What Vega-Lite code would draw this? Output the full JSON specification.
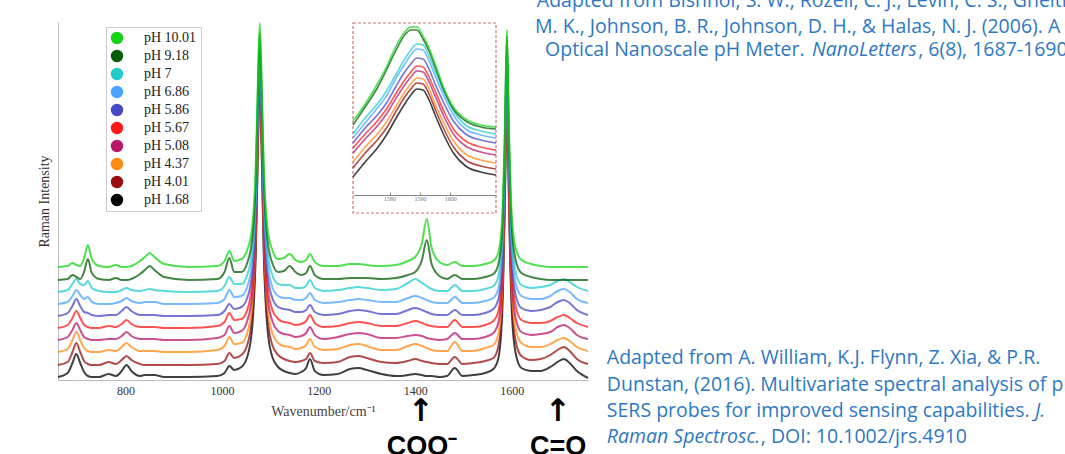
{
"$schema":"https://vega.github.io/schema/vega-lite/v6.json",
"width":530,"height":358,
"autosize":{"type":"none"},
"padding":{"left":58,"top":22,"right":477,"bottom":74},
"background":"white",
"config":{"view":{"stroke":null}},
"datasets":{
"one":[{}],
"main":[
{"s":"pH 1.68","w":660,"i":3},{"s":"pH 1.68","w":680,"i":7},{"s":"pH 1.68","w":690,"i":17},{"s":"pH 1.68","w":698,"i":26},{"s":"pH 1.68","w":706,"i":17},{"s":"pH 1.68","w":714,"i":8},{"s":"pH 1.68","w":722,"i":4},{"s":"pH 1.68","w":730,"i":3},{"s":"pH 1.68","w":745,"i":3},{"s":"pH 1.68","w":765,"i":6},{"s":"pH 1.68","w":780,"i":4},{"s":"pH 1.68","w":792,"i":9},{"s":"pH 1.68","w":802,"i":15},{"s":"pH 1.68","w":812,"i":9},{"s":"pH 1.68","w":830,"i":4},{"s":"pH 1.68","w":840,"i":5},{"s":"pH 1.68","w":850,"i":5},{"s":"pH 1.68","w":860,"i":5},{"s":"pH 1.68","w":880,"i":3},{"s":"pH 1.68","w":930,"i":3},{"s":"pH 1.68","w":990,"i":4},{"s":"pH 1.68","w":1005,"i":7},{"s":"pH 1.68","w":1015,"i":14},{"s":"pH 1.68","w":1025,"i":10},{"s":"pH 1.68","w":1040,"i":13},{"s":"pH 1.68","w":1052,"i":23},{"s":"pH 1.68","w":1062,"i":51},{"s":"pH 1.68","w":1070,"i":132},{"s":"pH 1.68","w":1074,"i":227},{"s":"pH 1.68","w":1078,"i":302},{"s":"pH 1.68","w":1082,"i":227},{"s":"pH 1.68","w":1086,"i":132},{"s":"pH 1.68","w":1094,"i":51},{"s":"pH 1.68","w":1104,"i":23},{"s":"pH 1.68","w":1116,"i":13},{"s":"pH 1.68","w":1128,"i":9},{"s":"pH 1.68","w":1140,"i":7},{"s":"pH 1.68","w":1152,"i":6},{"s":"pH 1.68","w":1164,"i":8},{"s":"pH 1.68","w":1174,"i":12},{"s":"pH 1.68","w":1182,"i":21},{"s":"pH 1.68","w":1192,"i":9},{"s":"pH 1.68","w":1210,"i":5},{"s":"pH 1.68","w":1240,"i":6},{"s":"pH 1.68","w":1265,"i":11},{"s":"pH 1.68","w":1282,"i":12},{"s":"pH 1.68","w":1300,"i":10},{"s":"pH 1.68","w":1330,"i":6},{"s":"pH 1.68","w":1360,"i":4},{"s":"pH 1.68","w":1385,"i":5},{"s":"pH 1.68","w":1400,"i":6},{"s":"pH 1.68","w":1414,"i":5},{"s":"pH 1.68","w":1424,"i":4},{"s":"pH 1.68","w":1434,"i":4},{"s":"pH 1.68","w":1450,"i":3},{"s":"pH 1.68","w":1466,"i":4},{"s":"pH 1.68","w":1482,"i":12},{"s":"pH 1.68","w":1498,"i":4},{"s":"pH 1.68","w":1520,"i":5},{"s":"pH 1.68","w":1545,"i":7},{"s":"pH 1.68","w":1562,"i":11},{"s":"pH 1.68","w":1572,"i":21},{"s":"pH 1.68","w":1580,"i":64},{"s":"pH 1.68","w":1586,"i":186},{"s":"pH 1.68","w":1590,"i":308},{"s":"pH 1.68","w":1594,"i":186},{"s":"pH 1.68","w":1600,"i":70},{"s":"pH 1.68","w":1608,"i":27},{"s":"pH 1.68","w":1620,"i":12},{"s":"pH 1.68","w":1640,"i":9},{"s":"pH 1.68","w":1660,"i":9},{"s":"pH 1.68","w":1680,"i":13},{"s":"pH 1.68","w":1695,"i":18},{"s":"pH 1.68","w":1708,"i":21},{"s":"pH 1.68","w":1720,"i":17},{"s":"pH 1.68","w":1735,"i":9},{"s":"pH 1.68","w":1758,"i":2},
{"s":"pH 4.01","w":660,"i":15},{"s":"pH 4.01","w":680,"i":18},{"s":"pH 4.01","w":690,"i":28},{"s":"pH 4.01","w":698,"i":37},{"s":"pH 4.01","w":706,"i":28},{"s":"pH 4.01","w":714,"i":19},{"s":"pH 4.01","w":722,"i":16},{"s":"pH 4.01","w":730,"i":15},{"s":"pH 4.01","w":745,"i":15},{"s":"pH 4.01","w":765,"i":18},{"s":"pH 4.01","w":780,"i":16},{"s":"pH 4.01","w":792,"i":20},{"s":"pH 4.01","w":802,"i":24},{"s":"pH 4.01","w":812,"i":20},{"s":"pH 4.01","w":830,"i":16},{"s":"pH 4.01","w":840,"i":15},{"s":"pH 4.01","w":850,"i":15},{"s":"pH 4.01","w":860,"i":15},{"s":"pH 4.01","w":880,"i":15},{"s":"pH 4.01","w":930,"i":15},{"s":"pH 4.01","w":990,"i":16},{"s":"pH 4.01","w":1005,"i":19},{"s":"pH 4.01","w":1015,"i":27},{"s":"pH 4.01","w":1025,"i":22},{"s":"pH 4.01","w":1040,"i":25},{"s":"pH 4.01","w":1052,"i":35},{"s":"pH 4.01","w":1062,"i":62},{"s":"pH 4.01","w":1070,"i":141},{"s":"pH 4.01","w":1074,"i":234},{"s":"pH 4.01","w":1078,"i":307},{"s":"pH 4.01","w":1082,"i":234},{"s":"pH 4.01","w":1086,"i":141},{"s":"pH 4.01","w":1094,"i":62},{"s":"pH 4.01","w":1104,"i":35},{"s":"pH 4.01","w":1116,"i":25},{"s":"pH 4.01","w":1128,"i":21},{"s":"pH 4.01","w":1140,"i":19},{"s":"pH 4.01","w":1152,"i":18},{"s":"pH 4.01","w":1164,"i":19},{"s":"pH 4.01","w":1174,"i":21},{"s":"pH 4.01","w":1182,"i":27},{"s":"pH 4.01","w":1192,"i":19},{"s":"pH 4.01","w":1210,"i":17},{"s":"pH 4.01","w":1240,"i":18},{"s":"pH 4.01","w":1265,"i":23},{"s":"pH 4.01","w":1282,"i":24},{"s":"pH 4.01","w":1300,"i":22},{"s":"pH 4.01","w":1330,"i":18},{"s":"pH 4.01","w":1360,"i":17},{"s":"pH 4.01","w":1385,"i":19},{"s":"pH 4.01","w":1400,"i":21},{"s":"pH 4.01","w":1414,"i":19},{"s":"pH 4.01","w":1424,"i":18},{"s":"pH 4.01","w":1434,"i":17},{"s":"pH 4.01","w":1450,"i":16},{"s":"pH 4.01","w":1466,"i":16},{"s":"pH 4.01","w":1482,"i":23},{"s":"pH 4.01","w":1498,"i":16},{"s":"pH 4.01","w":1520,"i":17},{"s":"pH 4.01","w":1545,"i":19},{"s":"pH 4.01","w":1562,"i":22},{"s":"pH 4.01","w":1572,"i":33},{"s":"pH 4.01","w":1580,"i":74},{"s":"pH 4.01","w":1586,"i":193},{"s":"pH 4.01","w":1590,"i":312},{"s":"pH 4.01","w":1594,"i":193},{"s":"pH 4.01","w":1600,"i":80},{"s":"pH 4.01","w":1608,"i":39},{"s":"pH 4.01","w":1620,"i":24},{"s":"pH 4.01","w":1640,"i":20},{"s":"pH 4.01","w":1660,"i":21},{"s":"pH 4.01","w":1680,"i":25},{"s":"pH 4.01","w":1695,"i":30},{"s":"pH 4.01","w":1708,"i":33},{"s":"pH 4.01","w":1720,"i":29},{"s":"pH 4.01","w":1735,"i":21},{"s":"pH 4.01","w":1758,"i":16},
{"s":"pH 4.37","w":660,"i":28},{"s":"pH 4.37","w":680,"i":31},{"s":"pH 4.37","w":690,"i":40},{"s":"pH 4.37","w":698,"i":48},{"s":"pH 4.37","w":706,"i":40},{"s":"pH 4.37","w":714,"i":32},{"s":"pH 4.37","w":722,"i":29},{"s":"pH 4.37","w":730,"i":28},{"s":"pH 4.37","w":745,"i":28},{"s":"pH 4.37","w":765,"i":30},{"s":"pH 4.37","w":780,"i":29},{"s":"pH 4.37","w":792,"i":33},{"s":"pH 4.37","w":802,"i":37},{"s":"pH 4.37","w":812,"i":33},{"s":"pH 4.37","w":830,"i":29},{"s":"pH 4.37","w":840,"i":29},{"s":"pH 4.37","w":850,"i":29},{"s":"pH 4.37","w":860,"i":29},{"s":"pH 4.37","w":880,"i":28},{"s":"pH 4.37","w":930,"i":28},{"s":"pH 4.37","w":990,"i":30},{"s":"pH 4.37","w":1005,"i":34},{"s":"pH 4.37","w":1015,"i":43},{"s":"pH 4.37","w":1025,"i":36},{"s":"pH 4.37","w":1040,"i":37},{"s":"pH 4.37","w":1052,"i":47},{"s":"pH 4.37","w":1062,"i":73},{"s":"pH 4.37","w":1070,"i":150},{"s":"pH 4.37","w":1074,"i":241},{"s":"pH 4.37","w":1078,"i":312},{"s":"pH 4.37","w":1082,"i":241},{"s":"pH 4.37","w":1086,"i":150},{"s":"pH 4.37","w":1094,"i":73},{"s":"pH 4.37","w":1104,"i":47},{"s":"pH 4.37","w":1116,"i":37},{"s":"pH 4.37","w":1128,"i":34},{"s":"pH 4.37","w":1140,"i":33},{"s":"pH 4.37","w":1152,"i":31},{"s":"pH 4.37","w":1164,"i":32},{"s":"pH 4.37","w":1174,"i":35},{"s":"pH 4.37","w":1182,"i":41},{"s":"pH 4.37","w":1192,"i":33},{"s":"pH 4.37","w":1210,"i":30},{"s":"pH 4.37","w":1240,"i":31},{"s":"pH 4.37","w":1265,"i":35},{"s":"pH 4.37","w":1282,"i":36},{"s":"pH 4.37","w":1300,"i":34},{"s":"pH 4.37","w":1330,"i":30},{"s":"pH 4.37","w":1360,"i":30},{"s":"pH 4.37","w":1385,"i":34},{"s":"pH 4.37","w":1400,"i":36},{"s":"pH 4.37","w":1414,"i":34},{"s":"pH 4.37","w":1424,"i":32},{"s":"pH 4.37","w":1434,"i":30},{"s":"pH 4.37","w":1450,"i":29},{"s":"pH 4.37","w":1466,"i":29},{"s":"pH 4.37","w":1482,"i":38},{"s":"pH 4.37","w":1498,"i":29},{"s":"pH 4.37","w":1520,"i":29},{"s":"pH 4.37","w":1545,"i":32},{"s":"pH 4.37","w":1562,"i":35},{"s":"pH 4.37","w":1572,"i":45},{"s":"pH 4.37","w":1580,"i":86},{"s":"pH 4.37","w":1586,"i":201},{"s":"pH 4.37","w":1590,"i":316},{"s":"pH 4.37","w":1594,"i":201},{"s":"pH 4.37","w":1600,"i":91},{"s":"pH 4.37","w":1608,"i":51},{"s":"pH 4.37","w":1620,"i":37},{"s":"pH 4.37","w":1640,"i":33},{"s":"pH 4.37","w":1660,"i":33},{"s":"pH 4.37","w":1680,"i":36},{"s":"pH 4.37","w":1695,"i":40},{"s":"pH 4.37","w":1708,"i":42},{"s":"pH 4.37","w":1720,"i":39},{"s":"pH 4.37","w":1735,"i":33},{"s":"pH 4.37","w":1758,"i":29},
{"s":"pH 5.08","w":660,"i":40},{"s":"pH 5.08","w":680,"i":43},{"s":"pH 5.08","w":690,"i":50},{"s":"pH 5.08","w":698,"i":57},{"s":"pH 5.08","w":706,"i":50},{"s":"pH 5.08","w":714,"i":43},{"s":"pH 5.08","w":722,"i":41},{"s":"pH 5.08","w":730,"i":40},{"s":"pH 5.08","w":745,"i":40},{"s":"pH 5.08","w":765,"i":41},{"s":"pH 5.08","w":780,"i":41},{"s":"pH 5.08","w":792,"i":44},{"s":"pH 5.08","w":802,"i":48},{"s":"pH 5.08","w":812,"i":44},{"s":"pH 5.08","w":830,"i":41},{"s":"pH 5.08","w":840,"i":41},{"s":"pH 5.08","w":850,"i":41},{"s":"pH 5.08","w":860,"i":41},{"s":"pH 5.08","w":880,"i":40},{"s":"pH 5.08","w":930,"i":40},{"s":"pH 5.08","w":990,"i":42},{"s":"pH 5.08","w":1005,"i":45},{"s":"pH 5.08","w":1015,"i":54},{"s":"pH 5.08","w":1025,"i":47},{"s":"pH 5.08","w":1040,"i":49},{"s":"pH 5.08","w":1052,"i":59},{"s":"pH 5.08","w":1062,"i":84},{"s":"pH 5.08","w":1070,"i":159},{"s":"pH 5.08","w":1074,"i":248},{"s":"pH 5.08","w":1078,"i":317},{"s":"pH 5.08","w":1082,"i":248},{"s":"pH 5.08","w":1086,"i":159},{"s":"pH 5.08","w":1094,"i":84},{"s":"pH 5.08","w":1104,"i":59},{"s":"pH 5.08","w":1116,"i":49},{"s":"pH 5.08","w":1128,"i":46},{"s":"pH 5.08","w":1140,"i":45},{"s":"pH 5.08","w":1152,"i":43},{"s":"pH 5.08","w":1164,"i":44},{"s":"pH 5.08","w":1174,"i":47},{"s":"pH 5.08","w":1182,"i":53},{"s":"pH 5.08","w":1192,"i":45},{"s":"pH 5.08","w":1210,"i":41},{"s":"pH 5.08","w":1240,"i":43},{"s":"pH 5.08","w":1265,"i":46},{"s":"pH 5.08","w":1282,"i":47},{"s":"pH 5.08","w":1300,"i":46},{"s":"pH 5.08","w":1330,"i":42},{"s":"pH 5.08","w":1360,"i":42},{"s":"pH 5.08","w":1385,"i":44},{"s":"pH 5.08","w":1400,"i":45},{"s":"pH 5.08","w":1414,"i":44},{"s":"pH 5.08","w":1424,"i":42},{"s":"pH 5.08","w":1434,"i":41},{"s":"pH 5.08","w":1450,"i":40},{"s":"pH 5.08","w":1466,"i":41},{"s":"pH 5.08","w":1482,"i":47},{"s":"pH 5.08","w":1498,"i":41},{"s":"pH 5.08","w":1520,"i":41},{"s":"pH 5.08","w":1545,"i":43},{"s":"pH 5.08","w":1562,"i":47},{"s":"pH 5.08","w":1572,"i":57},{"s":"pH 5.08","w":1580,"i":96},{"s":"pH 5.08","w":1586,"i":208},{"s":"pH 5.08","w":1590,"i":320},{"s":"pH 5.08","w":1594,"i":208},{"s":"pH 5.08","w":1600,"i":102},{"s":"pH 5.08","w":1608,"i":62},{"s":"pH 5.08","w":1620,"i":48},{"s":"pH 5.08","w":1640,"i":45},{"s":"pH 5.08","w":1660,"i":46},{"s":"pH 5.08","w":1680,"i":48},{"s":"pH 5.08","w":1695,"i":53},{"s":"pH 5.08","w":1708,"i":55},{"s":"pH 5.08","w":1720,"i":52},{"s":"pH 5.08","w":1735,"i":45},{"s":"pH 5.08","w":1758,"i":41},
{"s":"pH 5.67","w":660,"i":52},{"s":"pH 5.67","w":680,"i":55},{"s":"pH 5.67","w":690,"i":62},{"s":"pH 5.67","w":698,"i":69},{"s":"pH 5.67","w":706,"i":62},{"s":"pH 5.67","w":714,"i":55},{"s":"pH 5.67","w":722,"i":53},{"s":"pH 5.67","w":730,"i":52},{"s":"pH 5.67","w":745,"i":52},{"s":"pH 5.67","w":765,"i":54},{"s":"pH 5.67","w":780,"i":53},{"s":"pH 5.67","w":792,"i":56},{"s":"pH 5.67","w":802,"i":60},{"s":"pH 5.67","w":812,"i":56},{"s":"pH 5.67","w":830,"i":53},{"s":"pH 5.67","w":840,"i":53},{"s":"pH 5.67","w":850,"i":53},{"s":"pH 5.67","w":860,"i":53},{"s":"pH 5.67","w":880,"i":52},{"s":"pH 5.67","w":930,"i":52},{"s":"pH 5.67","w":990,"i":54},{"s":"pH 5.67","w":1005,"i":58},{"s":"pH 5.67","w":1015,"i":67},{"s":"pH 5.67","w":1025,"i":60},{"s":"pH 5.67","w":1040,"i":61},{"s":"pH 5.67","w":1052,"i":70},{"s":"pH 5.67","w":1062,"i":95},{"s":"pH 5.67","w":1070,"i":168},{"s":"pH 5.67","w":1074,"i":254},{"s":"pH 5.67","w":1078,"i":322},{"s":"pH 5.67","w":1082,"i":254},{"s":"pH 5.67","w":1086,"i":168},{"s":"pH 5.67","w":1094,"i":95},{"s":"pH 5.67","w":1104,"i":70},{"s":"pH 5.67","w":1116,"i":61},{"s":"pH 5.67","w":1128,"i":58},{"s":"pH 5.67","w":1140,"i":57},{"s":"pH 5.67","w":1152,"i":55},{"s":"pH 5.67","w":1164,"i":56},{"s":"pH 5.67","w":1174,"i":59},{"s":"pH 5.67","w":1182,"i":65},{"s":"pH 5.67","w":1192,"i":57},{"s":"pH 5.67","w":1210,"i":53},{"s":"pH 5.67","w":1240,"i":54},{"s":"pH 5.67","w":1265,"i":57},{"s":"pH 5.67","w":1282,"i":58},{"s":"pH 5.67","w":1300,"i":57},{"s":"pH 5.67","w":1330,"i":54},{"s":"pH 5.67","w":1360,"i":54},{"s":"pH 5.67","w":1385,"i":57},{"s":"pH 5.67","w":1400,"i":59},{"s":"pH 5.67","w":1414,"i":57},{"s":"pH 5.67","w":1424,"i":55},{"s":"pH 5.67","w":1434,"i":54},{"s":"pH 5.67","w":1450,"i":53},{"s":"pH 5.67","w":1466,"i":53},{"s":"pH 5.67","w":1482,"i":60},{"s":"pH 5.67","w":1498,"i":53},{"s":"pH 5.67","w":1520,"i":53},{"s":"pH 5.67","w":1545,"i":55},{"s":"pH 5.67","w":1562,"i":59},{"s":"pH 5.67","w":1572,"i":68},{"s":"pH 5.67","w":1580,"i":106},{"s":"pH 5.67","w":1586,"i":215},{"s":"pH 5.67","w":1590,"i":324},{"s":"pH 5.67","w":1594,"i":215},{"s":"pH 5.67","w":1600,"i":112},{"s":"pH 5.67","w":1608,"i":74},{"s":"pH 5.67","w":1620,"i":60},{"s":"pH 5.67","w":1640,"i":57},{"s":"pH 5.67","w":1660,"i":57},{"s":"pH 5.67","w":1680,"i":59},{"s":"pH 5.67","w":1695,"i":63},{"s":"pH 5.67","w":1708,"i":65},{"s":"pH 5.67","w":1720,"i":62},{"s":"pH 5.67","w":1735,"i":57},{"s":"pH 5.67","w":1758,"i":53},
{"s":"pH 5.86","w":660,"i":64},{"s":"pH 5.86","w":680,"i":67},{"s":"pH 5.86","w":690,"i":74},{"s":"pH 5.86","w":698,"i":81},{"s":"pH 5.86","w":706,"i":74},{"s":"pH 5.86","w":714,"i":68},{"s":"pH 5.86","w":722,"i":67},{"s":"pH 5.86","w":730,"i":65},{"s":"pH 5.86","w":745,"i":64},{"s":"pH 5.86","w":765,"i":65},{"s":"pH 5.86","w":780,"i":65},{"s":"pH 5.86","w":792,"i":69},{"s":"pH 5.86","w":802,"i":73},{"s":"pH 5.86","w":812,"i":69},{"s":"pH 5.86","w":830,"i":65},{"s":"pH 5.86","w":840,"i":65},{"s":"pH 5.86","w":850,"i":65},{"s":"pH 5.86","w":860,"i":65},{"s":"pH 5.86","w":880,"i":64},{"s":"pH 5.86","w":930,"i":64},{"s":"pH 5.86","w":990,"i":65},{"s":"pH 5.86","w":1005,"i":69},{"s":"pH 5.86","w":1015,"i":76},{"s":"pH 5.86","w":1025,"i":71},{"s":"pH 5.86","w":1040,"i":73},{"s":"pH 5.86","w":1052,"i":82},{"s":"pH 5.86","w":1062,"i":106},{"s":"pH 5.86","w":1070,"i":177},{"s":"pH 5.86","w":1074,"i":261},{"s":"pH 5.86","w":1078,"i":327},{"s":"pH 5.86","w":1082,"i":261},{"s":"pH 5.86","w":1086,"i":177},{"s":"pH 5.86","w":1094,"i":106},{"s":"pH 5.86","w":1104,"i":82},{"s":"pH 5.86","w":1116,"i":73},{"s":"pH 5.86","w":1128,"i":71},{"s":"pH 5.86","w":1140,"i":70},{"s":"pH 5.86","w":1152,"i":68},{"s":"pH 5.86","w":1164,"i":68},{"s":"pH 5.86","w":1174,"i":70},{"s":"pH 5.86","w":1182,"i":75},{"s":"pH 5.86","w":1192,"i":68},{"s":"pH 5.86","w":1210,"i":65},{"s":"pH 5.86","w":1240,"i":66},{"s":"pH 5.86","w":1265,"i":69},{"s":"pH 5.86","w":1282,"i":70},{"s":"pH 5.86","w":1300,"i":69},{"s":"pH 5.86","w":1330,"i":66},{"s":"pH 5.86","w":1360,"i":66},{"s":"pH 5.86","w":1385,"i":70},{"s":"pH 5.86","w":1400,"i":72},{"s":"pH 5.86","w":1414,"i":70},{"s":"pH 5.86","w":1424,"i":68},{"s":"pH 5.86","w":1434,"i":66},{"s":"pH 5.86","w":1450,"i":65},{"s":"pH 5.86","w":1466,"i":65},{"s":"pH 5.86","w":1482,"i":70},{"s":"pH 5.86","w":1498,"i":65},{"s":"pH 5.86","w":1520,"i":65},{"s":"pH 5.86","w":1545,"i":67},{"s":"pH 5.86","w":1562,"i":71},{"s":"pH 5.86","w":1572,"i":80},{"s":"pH 5.86","w":1580,"i":117},{"s":"pH 5.86","w":1586,"i":222},{"s":"pH 5.86","w":1590,"i":328},{"s":"pH 5.86","w":1594,"i":222},{"s":"pH 5.86","w":1600,"i":122},{"s":"pH 5.86","w":1608,"i":85},{"s":"pH 5.86","w":1620,"i":72},{"s":"pH 5.86","w":1640,"i":69},{"s":"pH 5.86","w":1660,"i":70},{"s":"pH 5.86","w":1680,"i":73},{"s":"pH 5.86","w":1695,"i":78},{"s":"pH 5.86","w":1708,"i":80},{"s":"pH 5.86","w":1720,"i":77},{"s":"pH 5.86","w":1735,"i":70},{"s":"pH 5.86","w":1758,"i":65},
{"s":"pH 6.86","w":660,"i":76},{"s":"pH 6.86","w":680,"i":78},{"s":"pH 6.86","w":690,"i":84},{"s":"pH 6.86","w":698,"i":90},{"s":"pH 6.86","w":706,"i":85},{"s":"pH 6.86","w":714,"i":81},{"s":"pH 6.86","w":722,"i":83},{"s":"pH 6.86","w":730,"i":78},{"s":"pH 6.86","w":745,"i":76},{"s":"pH 6.86","w":765,"i":76},{"s":"pH 6.86","w":780,"i":77},{"s":"pH 6.86","w":792,"i":79},{"s":"pH 6.86","w":802,"i":82},{"s":"pH 6.86","w":812,"i":79},{"s":"pH 6.86","w":830,"i":77},{"s":"pH 6.86","w":840,"i":78},{"s":"pH 6.86","w":850,"i":78},{"s":"pH 6.86","w":860,"i":78},{"s":"pH 6.86","w":880,"i":76},{"s":"pH 6.86","w":930,"i":76},{"s":"pH 6.86","w":990,"i":77},{"s":"pH 6.86","w":1005,"i":81},{"s":"pH 6.86","w":1015,"i":90},{"s":"pH 6.86","w":1025,"i":83},{"s":"pH 6.86","w":1040,"i":84},{"s":"pH 6.86","w":1052,"i":93},{"s":"pH 6.86","w":1062,"i":117},{"s":"pH 6.86","w":1070,"i":186},{"s":"pH 6.86","w":1074,"i":268},{"s":"pH 6.86","w":1078,"i":332},{"s":"pH 6.86","w":1082,"i":268},{"s":"pH 6.86","w":1086,"i":186},{"s":"pH 6.86","w":1094,"i":117},{"s":"pH 6.86","w":1104,"i":93},{"s":"pH 6.86","w":1116,"i":84},{"s":"pH 6.86","w":1128,"i":82},{"s":"pH 6.86","w":1140,"i":82},{"s":"pH 6.86","w":1152,"i":80},{"s":"pH 6.86","w":1164,"i":80},{"s":"pH 6.86","w":1174,"i":82},{"s":"pH 6.86","w":1182,"i":87},{"s":"pH 6.86","w":1192,"i":80},{"s":"pH 6.86","w":1210,"i":77},{"s":"pH 6.86","w":1240,"i":78},{"s":"pH 6.86","w":1265,"i":80},{"s":"pH 6.86","w":1282,"i":81},{"s":"pH 6.86","w":1300,"i":80},{"s":"pH 6.86","w":1330,"i":78},{"s":"pH 6.86","w":1360,"i":78},{"s":"pH 6.86","w":1385,"i":82},{"s":"pH 6.86","w":1400,"i":84},{"s":"pH 6.86","w":1414,"i":82},{"s":"pH 6.86","w":1424,"i":80},{"s":"pH 6.86","w":1434,"i":78},{"s":"pH 6.86","w":1450,"i":77},{"s":"pH 6.86","w":1466,"i":77},{"s":"pH 6.86","w":1482,"i":83},{"s":"pH 6.86","w":1498,"i":77},{"s":"pH 6.86","w":1520,"i":77},{"s":"pH 6.86","w":1545,"i":79},{"s":"pH 6.86","w":1562,"i":82},{"s":"pH 6.86","w":1572,"i":91},{"s":"pH 6.86","w":1580,"i":127},{"s":"pH 6.86","w":1586,"i":230},{"s":"pH 6.86","w":1590,"i":332},{"s":"pH 6.86","w":1594,"i":230},{"s":"pH 6.86","w":1600,"i":132},{"s":"pH 6.86","w":1608,"i":97},{"s":"pH 6.86","w":1620,"i":84},{"s":"pH 6.86","w":1640,"i":81},{"s":"pH 6.86","w":1660,"i":81},{"s":"pH 6.86","w":1680,"i":84},{"s":"pH 6.86","w":1695,"i":89},{"s":"pH 6.86","w":1708,"i":91},{"s":"pH 6.86","w":1720,"i":88},{"s":"pH 6.86","w":1735,"i":81},{"s":"pH 6.86","w":1758,"i":77},
{"s":"pH 7","w":660,"i":88},{"s":"pH 7","w":680,"i":90},{"s":"pH 7","w":690,"i":96},{"s":"pH 7","w":698,"i":101},{"s":"pH 7","w":706,"i":96},{"s":"pH 7","w":714,"i":95},{"s":"pH 7","w":722,"i":99},{"s":"pH 7","w":730,"i":92},{"s":"pH 7","w":745,"i":89},{"s":"pH 7","w":765,"i":88},{"s":"pH 7","w":780,"i":88},{"s":"pH 7","w":792,"i":90},{"s":"pH 7","w":802,"i":92},{"s":"pH 7","w":812,"i":90},{"s":"pH 7","w":830,"i":89},{"s":"pH 7","w":840,"i":90},{"s":"pH 7","w":850,"i":91},{"s":"pH 7","w":860,"i":90},{"s":"pH 7","w":880,"i":89},{"s":"pH 7","w":930,"i":88},{"s":"pH 7","w":990,"i":89},{"s":"pH 7","w":1005,"i":94},{"s":"pH 7","w":1015,"i":103},{"s":"pH 7","w":1025,"i":96},{"s":"pH 7","w":1040,"i":96},{"s":"pH 7","w":1052,"i":105},{"s":"pH 7","w":1062,"i":128},{"s":"pH 7","w":1070,"i":195},{"s":"pH 7","w":1074,"i":275},{"s":"pH 7","w":1078,"i":337},{"s":"pH 7","w":1082,"i":275},{"s":"pH 7","w":1086,"i":195},{"s":"pH 7","w":1094,"i":128},{"s":"pH 7","w":1104,"i":105},{"s":"pH 7","w":1116,"i":96},{"s":"pH 7","w":1128,"i":95},{"s":"pH 7","w":1140,"i":95},{"s":"pH 7","w":1152,"i":92},{"s":"pH 7","w":1164,"i":92},{"s":"pH 7","w":1174,"i":94},{"s":"pH 7","w":1182,"i":100},{"s":"pH 7","w":1192,"i":92},{"s":"pH 7","w":1210,"i":89},{"s":"pH 7","w":1240,"i":90},{"s":"pH 7","w":1265,"i":92},{"s":"pH 7","w":1282,"i":93},{"s":"pH 7","w":1300,"i":92},{"s":"pH 7","w":1330,"i":90},{"s":"pH 7","w":1360,"i":91},{"s":"pH 7","w":1385,"i":97},{"s":"pH 7","w":1400,"i":101},{"s":"pH 7","w":1414,"i":97},{"s":"pH 7","w":1424,"i":94},{"s":"pH 7","w":1434,"i":91},{"s":"pH 7","w":1450,"i":89},{"s":"pH 7","w":1466,"i":89},{"s":"pH 7","w":1482,"i":95},{"s":"pH 7","w":1498,"i":89},{"s":"pH 7","w":1520,"i":89},{"s":"pH 7","w":1545,"i":91},{"s":"pH 7","w":1562,"i":94},{"s":"pH 7","w":1572,"i":103},{"s":"pH 7","w":1580,"i":138},{"s":"pH 7","w":1586,"i":237},{"s":"pH 7","w":1590,"i":336},{"s":"pH 7","w":1594,"i":237},{"s":"pH 7","w":1600,"i":143},{"s":"pH 7","w":1608,"i":108},{"s":"pH 7","w":1620,"i":95},{"s":"pH 7","w":1640,"i":92},{"s":"pH 7","w":1660,"i":93},{"s":"pH 7","w":1680,"i":95},{"s":"pH 7","w":1695,"i":99},{"s":"pH 7","w":1708,"i":101},{"s":"pH 7","w":1720,"i":98},{"s":"pH 7","w":1735,"i":93},{"s":"pH 7","w":1758,"i":89},
{"s":"pH 9.18","w":660,"i":100},{"s":"pH 9.18","w":680,"i":101},{"s":"pH 9.18","w":690,"i":105},{"s":"pH 9.18","w":698,"i":103},{"s":"pH 9.18","w":706,"i":101},{"s":"pH 9.18","w":714,"i":108},{"s":"pH 9.18","w":722,"i":121},{"s":"pH 9.18","w":730,"i":107},{"s":"pH 9.18","w":745,"i":101},{"s":"pH 9.18","w":765,"i":100},{"s":"pH 9.18","w":780,"i":102},{"s":"pH 9.18","w":792,"i":100},{"s":"pH 9.18","w":802,"i":100},{"s":"pH 9.18","w":812,"i":101},{"s":"pH 9.18","w":830,"i":106},{"s":"pH 9.18","w":840,"i":110},{"s":"pH 9.18","w":850,"i":114},{"s":"pH 9.18","w":860,"i":110},{"s":"pH 9.18","w":880,"i":103},{"s":"pH 9.18","w":930,"i":100},{"s":"pH 9.18","w":990,"i":101},{"s":"pH 9.18","w":1005,"i":108},{"s":"pH 9.18","w":1015,"i":122},{"s":"pH 9.18","w":1025,"i":108},{"s":"pH 9.18","w":1040,"i":108},{"s":"pH 9.18","w":1052,"i":117},{"s":"pH 9.18","w":1062,"i":140},{"s":"pH 9.18","w":1070,"i":206},{"s":"pH 9.18","w":1074,"i":285},{"s":"pH 9.18","w":1078,"i":347},{"s":"pH 9.18","w":1082,"i":285},{"s":"pH 9.18","w":1086,"i":206},{"s":"pH 9.18","w":1094,"i":140},{"s":"pH 9.18","w":1104,"i":117},{"s":"pH 9.18","w":1116,"i":108},{"s":"pH 9.18","w":1128,"i":109},{"s":"pH 9.18","w":1140,"i":114},{"s":"pH 9.18","w":1152,"i":108},{"s":"pH 9.18","w":1164,"i":105},{"s":"pH 9.18","w":1174,"i":107},{"s":"pH 9.18","w":1182,"i":114},{"s":"pH 9.18","w":1192,"i":105},{"s":"pH 9.18","w":1210,"i":101},{"s":"pH 9.18","w":1240,"i":101},{"s":"pH 9.18","w":1265,"i":102},{"s":"pH 9.18","w":1282,"i":102},{"s":"pH 9.18","w":1300,"i":102},{"s":"pH 9.18","w":1330,"i":101},{"s":"pH 9.18","w":1360,"i":102},{"s":"pH 9.18","w":1385,"i":105},{"s":"pH 9.18","w":1400,"i":108},{"s":"pH 9.18","w":1414,"i":120},{"s":"pH 9.18","w":1424,"i":140},{"s":"pH 9.18","w":1434,"i":116},{"s":"pH 9.18","w":1450,"i":104},{"s":"pH 9.18","w":1466,"i":101},{"s":"pH 9.18","w":1482,"i":105},{"s":"pH 9.18","w":1498,"i":101},{"s":"pH 9.18","w":1520,"i":101},{"s":"pH 9.18","w":1545,"i":103},{"s":"pH 9.18","w":1562,"i":106},{"s":"pH 9.18","w":1572,"i":115},{"s":"pH 9.18","w":1580,"i":149},{"s":"pH 9.18","w":1586,"i":246},{"s":"pH 9.18","w":1590,"i":344},{"s":"pH 9.18","w":1594,"i":246},{"s":"pH 9.18","w":1600,"i":154},{"s":"pH 9.18","w":1608,"i":120},{"s":"pH 9.18","w":1620,"i":107},{"s":"pH 9.18","w":1640,"i":103},{"s":"pH 9.18","w":1660,"i":101},{"s":"pH 9.18","w":1680,"i":100},{"s":"pH 9.18","w":1695,"i":100},{"s":"pH 9.18","w":1708,"i":100},{"s":"pH 9.18","w":1720,"i":100},{"s":"pH 9.18","w":1735,"i":100},{"s":"pH 9.18","w":1758,"i":100},
{"s":"pH 10.01","w":660,"i":113},{"s":"pH 10.01","w":680,"i":114},{"s":"pH 10.01","w":690,"i":117},{"s":"pH 10.01","w":698,"i":115},{"s":"pH 10.01","w":706,"i":114},{"s":"pH 10.01","w":714,"i":122},{"s":"pH 10.01","w":722,"i":135},{"s":"pH 10.01","w":730,"i":121},{"s":"pH 10.01","w":745,"i":114},{"s":"pH 10.01","w":765,"i":113},{"s":"pH 10.01","w":780,"i":115},{"s":"pH 10.01","w":792,"i":113},{"s":"pH 10.01","w":802,"i":113},{"s":"pH 10.01","w":812,"i":114},{"s":"pH 10.01","w":830,"i":119},{"s":"pH 10.01","w":840,"i":123},{"s":"pH 10.01","w":850,"i":127},{"s":"pH 10.01","w":860,"i":123},{"s":"pH 10.01","w":880,"i":116},{"s":"pH 10.01","w":930,"i":113},{"s":"pH 10.01","w":990,"i":114},{"s":"pH 10.01","w":1005,"i":119},{"s":"pH 10.01","w":1015,"i":129},{"s":"pH 10.01","w":1025,"i":119},{"s":"pH 10.01","w":1040,"i":121},{"s":"pH 10.01","w":1052,"i":130},{"s":"pH 10.01","w":1062,"i":152},{"s":"pH 10.01","w":1070,"i":218},{"s":"pH 10.01","w":1074,"i":296},{"s":"pH 10.01","w":1078,"i":357},{"s":"pH 10.01","w":1082,"i":296},{"s":"pH 10.01","w":1086,"i":218},{"s":"pH 10.01","w":1094,"i":152},{"s":"pH 10.01","w":1104,"i":130},{"s":"pH 10.01","w":1116,"i":121},{"s":"pH 10.01","w":1128,"i":122},{"s":"pH 10.01","w":1140,"i":126},{"s":"pH 10.01","w":1152,"i":120},{"s":"pH 10.01","w":1164,"i":118},{"s":"pH 10.01","w":1174,"i":120},{"s":"pH 10.01","w":1182,"i":126},{"s":"pH 10.01","w":1192,"i":118},{"s":"pH 10.01","w":1210,"i":114},{"s":"pH 10.01","w":1240,"i":114},{"s":"pH 10.01","w":1265,"i":116},{"s":"pH 10.01","w":1282,"i":116},{"s":"pH 10.01","w":1300,"i":115},{"s":"pH 10.01","w":1330,"i":114},{"s":"pH 10.01","w":1360,"i":115},{"s":"pH 10.01","w":1385,"i":119},{"s":"pH 10.01","w":1400,"i":123},{"s":"pH 10.01","w":1414,"i":137},{"s":"pH 10.01","w":1424,"i":161},{"s":"pH 10.01","w":1434,"i":132},{"s":"pH 10.01","w":1450,"i":118},{"s":"pH 10.01","w":1466,"i":115},{"s":"pH 10.01","w":1482,"i":118},{"s":"pH 10.01","w":1498,"i":114},{"s":"pH 10.01","w":1520,"i":114},{"s":"pH 10.01","w":1545,"i":116},{"s":"pH 10.01","w":1562,"i":119},{"s":"pH 10.01","w":1572,"i":127},{"s":"pH 10.01","w":1580,"i":160},{"s":"pH 10.01","w":1586,"i":255},{"s":"pH 10.01","w":1590,"i":350},{"s":"pH 10.01","w":1594,"i":255},{"s":"pH 10.01","w":1600,"i":165},{"s":"pH 10.01","w":1608,"i":132},{"s":"pH 10.01","w":1620,"i":120},{"s":"pH 10.01","w":1640,"i":116},{"s":"pH 10.01","w":1660,"i":114},{"s":"pH 10.01","w":1680,"i":113},{"s":"pH 10.01","w":1695,"i":113},{"s":"pH 10.01","w":1708,"i":113},{"s":"pH 10.01","w":1720,"i":113},{"s":"pH 10.01","w":1735,"i":113},{"s":"pH 10.01","w":1758,"i":113}
],
"inset":[
{"s":"pH 1.68","w":1568,"i":36},{"s":"pH 1.68","w":1572,"i":51},{"s":"pH 1.68","w":1576,"i":65},{"s":"pH 1.68","w":1579,"i":78},{"s":"pH 1.68","w":1582,"i":94},{"s":"pH 1.68","w":1585,"i":109},{"s":"pH 1.68","w":1587,"i":118},{"s":"pH 1.68","w":1589,"i":124},{"s":"pH 1.68","w":1591,"i":123},{"s":"pH 1.68","w":1593,"i":113},{"s":"pH 1.68","w":1595,"i":98},{"s":"pH 1.68","w":1598,"i":77},{"s":"pH 1.68","w":1601,"i":60},{"s":"pH 1.68","w":1605,"i":47},{"s":"pH 1.68","w":1610,"i":41},{"s":"pH 1.68","w":1615,"i":38},
{"s":"pH 4.01","w":1568,"i":45},{"s":"pH 4.01","w":1572,"i":60},{"s":"pH 4.01","w":1576,"i":73},{"s":"pH 4.01","w":1579,"i":85},{"s":"pH 4.01","w":1582,"i":101},{"s":"pH 4.01","w":1585,"i":116},{"s":"pH 4.01","w":1587,"i":124},{"s":"pH 4.01","w":1589,"i":130},{"s":"pH 4.01","w":1591,"i":129},{"s":"pH 4.01","w":1593,"i":119},{"s":"pH 4.01","w":1595,"i":104},{"s":"pH 4.01","w":1598,"i":83},{"s":"pH 4.01","w":1601,"i":66},{"s":"pH 4.01","w":1605,"i":53},{"s":"pH 4.01","w":1610,"i":47},{"s":"pH 4.01","w":1615,"i":44},
{"s":"pH 4.37","w":1568,"i":51},{"s":"pH 4.37","w":1572,"i":66},{"s":"pH 4.37","w":1576,"i":79},{"s":"pH 4.37","w":1579,"i":91},{"s":"pH 4.37","w":1582,"i":106},{"s":"pH 4.37","w":1585,"i":121},{"s":"pH 4.37","w":1587,"i":129},{"s":"pH 4.37","w":1589,"i":135},{"s":"pH 4.37","w":1591,"i":134},{"s":"pH 4.37","w":1593,"i":124},{"s":"pH 4.37","w":1595,"i":109},{"s":"pH 4.37","w":1598,"i":89},{"s":"pH 4.37","w":1601,"i":72},{"s":"pH 4.37","w":1605,"i":59},{"s":"pH 4.37","w":1610,"i":53},{"s":"pH 4.37","w":1615,"i":50},
{"s":"pH 5.08","w":1568,"i":60},{"s":"pH 5.08","w":1572,"i":74},{"s":"pH 5.08","w":1576,"i":87},{"s":"pH 5.08","w":1579,"i":99},{"s":"pH 5.08","w":1582,"i":114},{"s":"pH 5.08","w":1585,"i":128},{"s":"pH 5.08","w":1587,"i":136},{"s":"pH 5.08","w":1589,"i":142},{"s":"pH 5.08","w":1591,"i":141},{"s":"pH 5.08","w":1593,"i":131},{"s":"pH 5.08","w":1595,"i":117},{"s":"pH 5.08","w":1598,"i":96},{"s":"pH 5.08","w":1601,"i":79},{"s":"pH 5.08","w":1605,"i":67},{"s":"pH 5.08","w":1610,"i":61},{"s":"pH 5.08","w":1615,"i":58},
{"s":"pH 5.67","w":1568,"i":65},{"s":"pH 5.67","w":1572,"i":79},{"s":"pH 5.67","w":1576,"i":92},{"s":"pH 5.67","w":1579,"i":104},{"s":"pH 5.67","w":1582,"i":119},{"s":"pH 5.67","w":1585,"i":133},{"s":"pH 5.67","w":1587,"i":141},{"s":"pH 5.67","w":1589,"i":147},{"s":"pH 5.67","w":1591,"i":146},{"s":"pH 5.67","w":1593,"i":136},{"s":"pH 5.67","w":1595,"i":122},{"s":"pH 5.67","w":1598,"i":101},{"s":"pH 5.67","w":1601,"i":84},{"s":"pH 5.67","w":1605,"i":72},{"s":"pH 5.67","w":1610,"i":66},{"s":"pH 5.67","w":1615,"i":63},
{"s":"pH 5.86","w":1568,"i":70},{"s":"pH 5.86","w":1572,"i":85},{"s":"pH 5.86","w":1576,"i":98},{"s":"pH 5.86","w":1579,"i":110},{"s":"pH 5.86","w":1582,"i":126},{"s":"pH 5.86","w":1585,"i":141},{"s":"pH 5.86","w":1587,"i":149},{"s":"pH 5.86","w":1589,"i":155},{"s":"pH 5.86","w":1591,"i":154},{"s":"pH 5.86","w":1593,"i":144},{"s":"pH 5.86","w":1595,"i":129},{"s":"pH 5.86","w":1598,"i":109},{"s":"pH 5.86","w":1601,"i":92},{"s":"pH 5.86","w":1605,"i":79},{"s":"pH 5.86","w":1610,"i":73},{"s":"pH 5.86","w":1615,"i":70},
{"s":"pH 6.86","w":1568,"i":75},{"s":"pH 6.86","w":1572,"i":90},{"s":"pH 6.86","w":1576,"i":105},{"s":"pH 6.86","w":1579,"i":117},{"s":"pH 6.86","w":1582,"i":134},{"s":"pH 6.86","w":1585,"i":149},{"s":"pH 6.86","w":1587,"i":158},{"s":"pH 6.86","w":1589,"i":164},{"s":"pH 6.86","w":1591,"i":163},{"s":"pH 6.86","w":1593,"i":152},{"s":"pH 6.86","w":1595,"i":137},{"s":"pH 6.86","w":1598,"i":116},{"s":"pH 6.86","w":1601,"i":98},{"s":"pH 6.86","w":1605,"i":84},{"s":"pH 6.86","w":1610,"i":78},{"s":"pH 6.86","w":1615,"i":75},
{"s":"pH 7","w":1568,"i":79},{"s":"pH 7","w":1572,"i":95},{"s":"pH 7","w":1576,"i":109},{"s":"pH 7","w":1579,"i":122},{"s":"pH 7","w":1582,"i":138},{"s":"pH 7","w":1585,"i":154},{"s":"pH 7","w":1587,"i":163},{"s":"pH 7","w":1589,"i":169},{"s":"pH 7","w":1591,"i":168},{"s":"pH 7","w":1593,"i":157},{"s":"pH 7","w":1595,"i":142},{"s":"pH 7","w":1598,"i":120},{"s":"pH 7","w":1601,"i":102},{"s":"pH 7","w":1605,"i":88},{"s":"pH 7","w":1610,"i":82},{"s":"pH 7","w":1615,"i":79},
{"s":"pH 9.18","w":1568,"i":88},{"s":"pH 9.18","w":1572,"i":106},{"s":"pH 9.18","w":1576,"i":125},{"s":"pH 9.18","w":1579,"i":143},{"s":"pH 9.18","w":1582,"i":162},{"s":"pH 9.18","w":1585,"i":178},{"s":"pH 9.18","w":1587,"i":183},{"s":"pH 9.18","w":1589,"i":183},{"s":"pH 9.18","w":1591,"i":174},{"s":"pH 9.18","w":1593,"i":162},{"s":"pH 9.18","w":1595,"i":146},{"s":"pH 9.18","w":1598,"i":122},{"s":"pH 9.18","w":1601,"i":104},{"s":"pH 9.18","w":1605,"i":92},{"s":"pH 9.18","w":1610,"i":86},{"s":"pH 9.18","w":1615,"i":84},
{"s":"pH 10.01","w":1568,"i":92},{"s":"pH 10.01","w":1572,"i":109},{"s":"pH 10.01","w":1576,"i":129},{"s":"pH 10.01","w":1579,"i":146},{"s":"pH 10.01","w":1582,"i":166},{"s":"pH 10.01","w":1585,"i":181},{"s":"pH 10.01","w":1587,"i":186},{"s":"pH 10.01","w":1589,"i":186},{"s":"pH 10.01","w":1591,"i":177},{"s":"pH 10.01","w":1593,"i":165},{"s":"pH 10.01","w":1595,"i":149},{"s":"pH 10.01","w":1598,"i":124},{"s":"pH 10.01","w":1601,"i":106},{"s":"pH 10.01","w":1605,"i":94},{"s":"pH 10.01","w":1610,"i":88},{"s":"pH 10.01","w":1615,"i":86}
]
},
"layer":[
{"layer":[
{"data":{"name":"main"},
"mark":{"type":"line","interpolate":"monotone","strokeWidth":2,"opacity":0.75},
"encoding":{
"x":{"field":"w","type":"quantitative","scale":{"domain":[660,1758],"nice":false,"zero":false},
"axis":{"title":"Wavenumber/cm⁻¹","values":[800,1000,1200,1400,1600],"format":"d","grid":false,"ticks":false,"labelPadding":5,"labelFont":"Liberation Serif","labelFontSize":12,"labelColor":"#333","domainColor":"#bbb","titleFont":"Liberation Serif","titleFontSize":14,"titleFontWeight":"normal","titleColor":"#444","titlePadding":8}},
"y":{"field":"i","type":"quantitative","scale":{"domain":[0,358],"nice":false,"zero":false},
"axis":{"title":"Raman Intensity","labels":false,"ticks":false,"grid":false,"domainColor":"#bbb","titleFont":"Liberation Serif","titleFontSize":14,"titleFontWeight":"normal","titleColor":"#333","titlePadding":7}},
"color":{"field":"s","type":"nominal",
"scale":{"domain":["pH 10.01","pH 9.18","pH 7","pH 6.86","pH 5.86","pH 5.67","pH 5.08","pH 4.37","pH 4.01","pH 1.68"],
"range":["#14d414","#075c07","#22cccc","#4aa3ff","#4747c8","#ff1a1a","#b8166a","#ff8a14","#990d0d","#000000"]},
"legend":{"orient":"none","legendX":48,"legendY":5,"title":null,"symbolType":"circle","symbolSize":154,"symbolOpacity":1,"symbolStrokeWidth":0,"padding":4,"rowPadding":4,"labelOffset":20,"labelFont":"Liberation Serif","labelFontSize":14,"labelColor":"#222","strokeColor":"#ccc","fillColor":"white",
"encode":{"symbols":{"update":{"fill":{"scale":"color","field":"value"},"opacity":{"value":1}}}}}}
}},
{"data":{"name":"one"},"mark":{"type":"text","text":"Adapted from Bishnoi, S. W., Rozell, C. J., Levin, C. S., Gheith,","align":"left","baseline":"middle","font":"Open Sans","fontSize":19.5,"color":"#2e78c2"},
"encoding":{"x":{"datum":1652,"type":"quantitative"},"y":{"datum":379,"type":"quantitative"}}},
{"data":{"name":"one"},"mark":{"type":"text","text":"M. K., Johnson, B. R., Johnson, D. H., & Halas, N. J. (2006). A","align":"left","baseline":"middle","font":"Open Sans","fontSize":19.5,"color":"#2e78c2"},
"encoding":{"x":{"datum":1648,"type":"quantitative"},"y":{"datum":353,"type":"quantitative"}}},
{"data":{"name":"one"},"mark":{"type":"text","text":"Optical Nanoscale pH Meter.","align":"left","baseline":"middle","font":"Open Sans","fontSize":19.5,"color":"#2e78c2"},
"encoding":{"x":{"datum":1669,"type":"quantitative"},"y":{"datum":330,"type":"quantitative"}}},
{"data":{"name":"one"},"mark":{"type":"text","text":"NanoLetters","align":"left","baseline":"middle","font":"Open Sans","fontSize":19.5,"fontStyle":"italic","color":"#2e78c2"},
"encoding":{"x":{"datum":2222,"type":"quantitative"},"y":{"datum":330,"type":"quantitative"}}},
{"data":{"name":"one"},"mark":{"type":"text","text":", 6(8), 1687-1690.","align":"left","baseline":"middle","font":"Open Sans","fontSize":19.5,"color":"#2e78c2"},
"encoding":{"x":{"datum":2442,"type":"quantitative"},"y":{"datum":330,"type":"quantitative"}}},
{"data":{"name":"one"},"mark":{"type":"text","text":"Adapted from A. William, K.J. Flynn, Z. Xia, & P.R.","align":"left","baseline":"middle","font":"Open Sans","fontSize":19.5,"color":"#2e78c2"},
"encoding":{"x":{"datum":1797,"type":"quantitative"},"y":{"datum":22,"type":"quantitative"}}},
{"data":{"name":"one"},"mark":{"type":"text","text":"Dunstan, (2016). Multivariate spectral analysis of pH","align":"left","baseline":"middle","font":"Open Sans","fontSize":19.5,"color":"#2e78c2"},
"encoding":{"x":{"datum":1797,"type":"quantitative"},"y":{"datum":-4.5,"type":"quantitative"}}},
{"data":{"name":"one"},"mark":{"type":"text","text":"SERS probes for improved sensing capabilities.","align":"left","baseline":"middle","font":"Open Sans","fontSize":19.5,"color":"#2e78c2"},
"encoding":{"x":{"datum":1797,"type":"quantitative"},"y":{"datum":-31,"type":"quantitative"}}},
{"data":{"name":"one"},"mark":{"type":"text","text":"J.","align":"left","baseline":"middle","font":"Open Sans","fontSize":19.5,"fontStyle":"italic","color":"#2e78c2"},
"encoding":{"x":{"datum":2684,"type":"quantitative"},"y":{"datum":-31,"type":"quantitative"}}},
{"data":{"name":"one"},"mark":{"type":"text","text":"Raman Spectrosc.","align":"left","baseline":"middle","font":"Open Sans","fontSize":19.5,"fontStyle":"italic","color":"#2e78c2"},
"encoding":{"x":{"datum":1797,"type":"quantitative"},"y":{"datum":-57,"type":"quantitative"}}},
{"data":{"name":"one"},"mark":{"type":"text","text":", DOI:  10.1002/jrs.4910","align":"left","baseline":"middle","font":"Open Sans","fontSize":19.5,"color":"#2e78c2"},
"encoding":{"x":{"datum":2116,"type":"quantitative"},"y":{"datum":-57,"type":"quantitative"}}},
{"data":{"name":"one"},"mark":{"type":"text","text":"↑","align":"center","baseline":"middle","font":"DejaVu Sans","fontSize":31,"fontWeight":"bold","color":"#000"},
"encoding":{"x":{"datum":1412,"type":"quantitative"},"y":{"datum":-32,"type":"quantitative"}}},
{"data":{"name":"one"},"mark":{"type":"text","text":"↑","align":"center","baseline":"middle","font":"DejaVu Sans","fontSize":31,"fontWeight":"bold","color":"#000"},
"encoding":{"x":{"datum":1696,"type":"quantitative"},"y":{"datum":-32,"type":"quantitative"}}},
{"data":{"name":"one"},"mark":{"type":"text","text":"COO⁻","align":"center","baseline":"alphabetic","font":"Liberation Sans","fontSize":27,"fontWeight":"bold","color":"#000"},
"encoding":{"x":{"datum":1414,"type":"quantitative"},"y":{"datum":-75,"type":"quantitative"}}},
{"data":{"name":"one"},"mark":{"type":"text","text":"C=O","align":"center","baseline":"alphabetic","font":"Liberation Sans","fontSize":27,"fontWeight":"bold","color":"#000"},
"encoding":{"x":{"datum":1696,"type":"quantitative"},"y":{"datum":-75,"type":"quantitative"}}}
]},
{"layer":[
{"data":{"name":"one"},"mark":{"type":"rect","fill":"white","stroke":"#d27272","strokeDash":[3,2],"strokeWidth":1.2},
"encoding":{"x":{"datum":1568,"type":"quantitative","scale":{"domain":[1568,1615],"range":[295,438],"nice":false,"zero":false},"axis":{"orient":"bottom","offset":-185,"zindex":2,"values":[1580,1590,1600],"format":"d","title":null,"grid":false,"tickSize":-3,"labelPadding":3,"labelFont":"Liberation Serif","labelFontSize":6,"labelColor":"#777","domainColor":"#888","tickColor":"#888"}},
"x2":{"datum":1615},
"y":{"datum":0,"type":"quantitative","scale":{"domain":[0,190],"range":[191,1],"nice":false,"zero":false},"axis":null},
"y2":{"datum":190}}},
{"data":{"name":"inset"},
"mark":{"type":"line","interpolate":"monotone","strokeWidth":1.6,"opacity":0.75},
"encoding":{"x":{"field":"w","type":"quantitative"},"y":{"field":"i","type":"quantitative"},
"color":{"field":"s","type":"nominal","legend":null}}}
]}
],
"resolve":{"scale":{"x":"independent","y":"independent"}}
}
